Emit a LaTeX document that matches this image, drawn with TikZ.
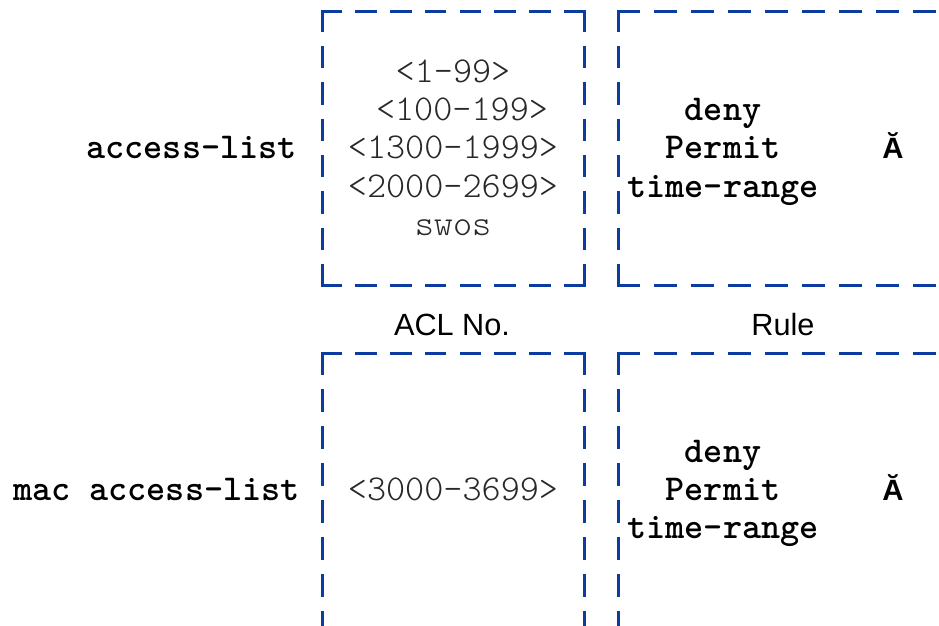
\documentclass[tikz,border=0pt]{standalone}
\usepackage{fontspec}
\newfontfamily\lsans{Liberation Sans}
\definecolor{boxblue}{RGB}{12,60,160}
\definecolor{numgray}{RGB}{40,40,40}
\newcommand\cmdfont{\ttfamily\bfseries\fontsize{27.3}{30}\selectfont}
\newcommand\numfont{\ttfamily\fontseries{l}\fontsize{27.3}{30}\selectfont\color{numgray}}
\newcommand\lblfont{\lsans\fontsize{23}{26}\selectfont}
\newcommand\brvfont{\lsans\bfseries\fontsize{22}{26}\selectfont}
\begin{document}
\begin{tikzpicture}[x=0.75pt,y=-0.75pt,
  side/.style={draw=boxblue,line width=2.25pt,line cap=rect},
  hdash/.style={side,dash pattern=on 13.97pt off 12.11pt},
  vdash/.style={side,dash pattern=on 14.7pt off 12.56pt},
  basedash/.style={side,dash pattern=on 15pt off 12.75pt},
  cmd/.style={inner sep=0pt,anchor=base,font=\cmdfont},
  num/.style={inner sep=0pt,anchor=base,font=\numfont},
  lbl/.style={inner sep=0pt,anchor=base,font=\lblfont},
  brv/.style={inner sep=0pt,anchor=base,font=\brvfont}]
\useasboundingbox (0,0) rectangle (939,625);
\begin{scope}
\clip (0,0) rectangle (939,625);
% box corners
\coordinate (b1tl) at (322,11);  \coordinate (b1tr) at (584,11);
\coordinate (b1bl) at (322,285); \coordinate (b1br) at (584,285);
\coordinate (b2tl) at (618,11);  \coordinate (b2tr) at (970,11);
\coordinate (b2bl) at (618,285); \coordinate (b2br) at (970,285);
\coordinate (b3tl) at (322,353); \coordinate (b3tr) at (584,353);
\coordinate (b3bl) at (322,660); \coordinate (b3br) at (584,660);
\coordinate (b4tl) at (618,353); \coordinate (b4tr) at (970,353);
\coordinate (b4bl) at (618,660);
% box 1
\draw[hdash] (b1tl) -- (b1tr);
\draw[hdash] (b1bl) -- (b1br);
\draw[vdash] (b1tl) -- (b1bl);
\draw[vdash] (b1tr) -- (b1br);
% box 2
\draw[basedash] (b2tl) -- (b2tr);
\draw[basedash] (b2bl) -- (b2br);
\draw[vdash] (b2tl) -- (b2bl);
% box 3
\draw[hdash] (b3tl) -- (b3tr);
\draw[basedash] (b3tl) -- (b3bl);
\draw[basedash] (b3tr) -- (b3br);
% box 4
\draw[basedash] (b4tl) -- (b4tr);
\draw[basedash] (b4tl) -- (b4bl);
\end{scope}
% left commands
\node[cmd,anchor=base east] (acl) at (297,158) {access-list};
\node[cmd,anchor=base east] (macacl) at (300,500) {mac access-list};
% ACL numbers
\node[num] (n1) at (453,82) {<1-99>};
\node[num] (n2) at (462,120) {<100-199>};
\node[num] (n3) at (453,158) {<1300-1999>};
\node[num] (n4) at (453,197) {<2000-2699>};
\node[num] (n5) at (453,235) {swos};
\node[num] (n6) at (453,500) {<3000-3699>};
% rules
\node[cmd] (d1) at (723,120) {deny};
\node[cmd] (p1) at (723,158) {Permit};
\node[cmd] (t1) at (723,197) {time-range};
\node[cmd] (d2) at (723,462) {deny};
\node[cmd] (p2) at (723,500) {Permit};
\node[cmd] (t2) at (723,538) {time-range};
\node[brv] (a1) at (893,158) {Ă};
\node[brv] (a2) at (893,500) {Ă};
% labels
\node[lbl] (lacl) at (452,335) {ACL No.};
\node[lbl] (lrule) at (783,335) {Rule};
\end{tikzpicture}
\end{document}
